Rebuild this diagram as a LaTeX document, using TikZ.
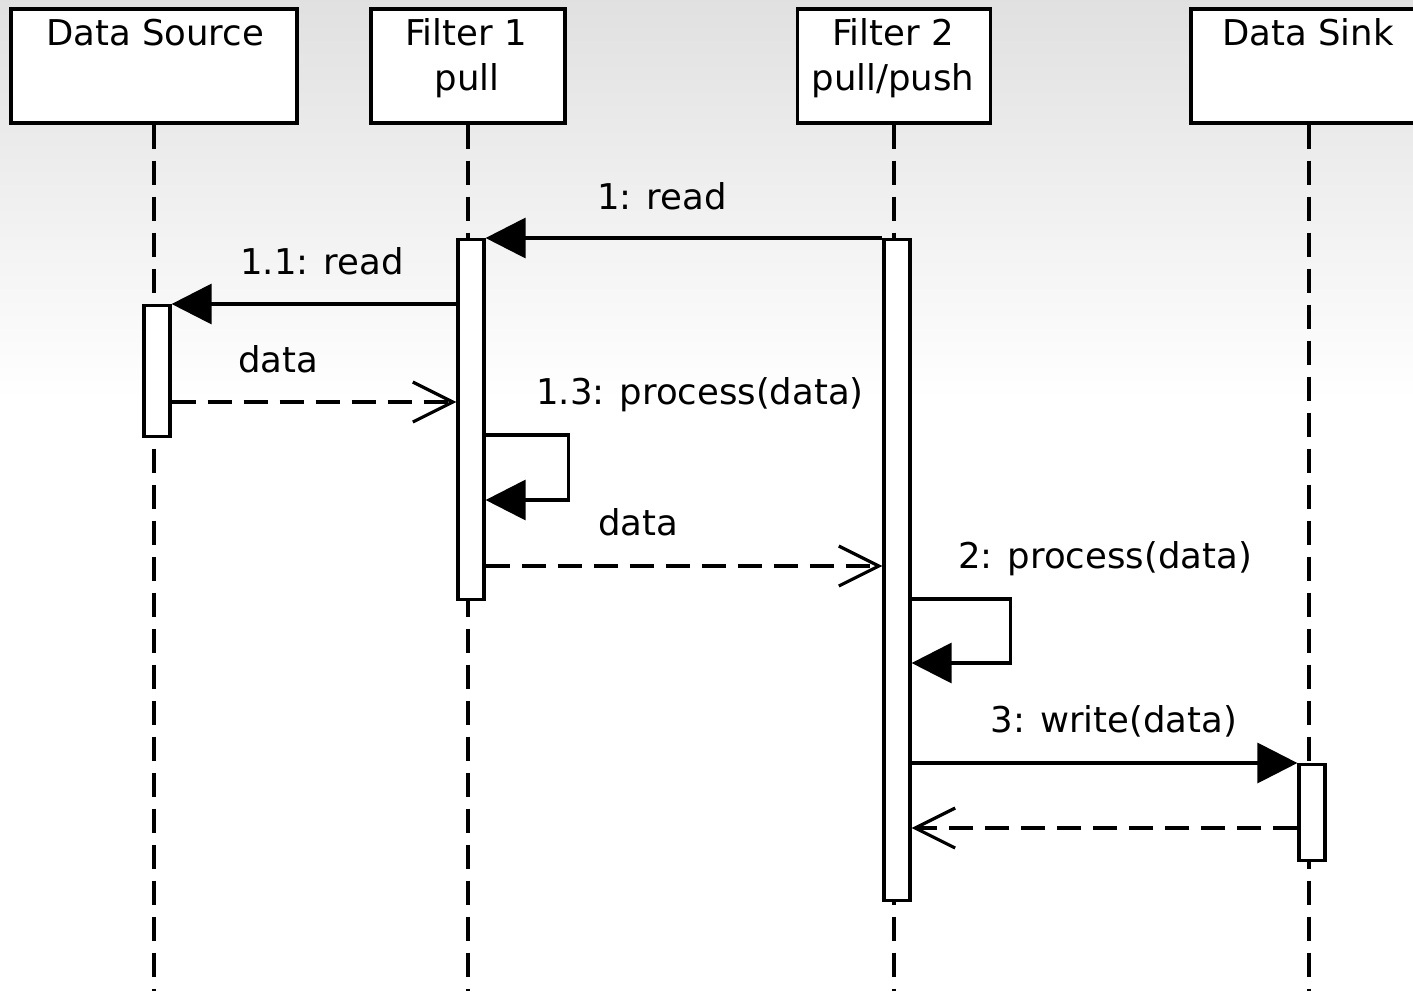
\documentclass[tikz,border=0pt]{standalone}
\usepackage{fontspec}
\setmainfont{DejaVu Sans}
\usetikzlibrary{arrows.meta}
\begin{document}
\begin{tikzpicture}[x=1pt,y=-1pt,
  every node/.style={font=\fontsize{35.5}{45}\selectfont},
  headbox/.style={draw, line width=3.2pt, fill=white, inner sep=0pt, rectangle, minimum height=114pt},
  actbar/.style={draw, line width=3.2pt, fill=white, inner sep=0pt, minimum width=26pt, anchor=north},
  lifeline/.style={line width=3.2pt, dash pattern=on 24pt off 12pt},
  call/.style={line width=3.2pt, -{Triangle[length=40pt,width=40pt]}},
  reply/.style={line width=3.2pt, dash pattern=on 24pt off 12pt, -{Straight Barb[length=40pt,width=40pt,line width=3.2pt]}},
  lbl/.style={anchor=base, inner sep=0pt}]
\path[use as bounding box] (0,0) rectangle (1413,991);
\clip (0,0) rectangle (1413,991);
\fill[white] (0,0) rectangle (1413,991);
\shade[top color=black!12, bottom color=white] (0,0) rectangle (1413,400);

% header boxes
\node[headbox, minimum width=286pt] (ds) at (154,66) {};
\node[headbox, minimum width=194pt] (f1) at (468,66) {};
\node[headbox, minimum width=193pt] (f2) at (894,66) {};
\node[headbox, minimum width=236pt] (sink) at (1309,66) {};
\node[lbl] (dst) at (155,45) {Data Source};
\node[lbl] (f1a) at (466,45) {Filter 1};
\node[lbl] (f1b) at (467,90) {pull};
\node[lbl] (f2a) at (893,45) {Filter 2};
\node[lbl] (f2b) at (893,90) {pull/push};
\node[lbl] (sinkt) at (1308,45) {Data Sink};

% lifelines
\coordinate (bottom) at (0,991);
\draw[lifeline] (ds.south) -- (ds.south |- bottom);
\draw[lifeline] (f1.south) -- (f1.south |- bottom);
\draw[lifeline] (f2.south) -- (f2.south |- bottom);
\draw[lifeline] (sink.south) -- (sink.south |- bottom);

% activation bars
\node[actbar, minimum height=360pt] (f1bar) at ([xshift=3pt]f1.center |- 0,238) {};
\node[actbar, minimum height=131pt] (dsbar) at ([xshift=3pt]ds.center |- 0,304) {};
\node[actbar, minimum height=661pt] (f2bar) at ([xshift=3pt]f2.center |- 0,238) {};
\node[actbar, minimum height=96pt] (sinkbar) at ([xshift=3pt]sink.center |- 0,763) {};

% messages
\draw[call] (f2bar.north west) -- (f1bar.north east);
\draw[call] (f1bar.west |- dsbar.north) -- (dsbar.north east);
\draw[reply] (dsbar.east |- 0,402) -- (f1bar.west |- 0,402);
\draw[call] (f1bar.east |- 0,435) -- ++(83,0) |- (f1bar.east |- 0,500);
\draw[reply] (f1bar.east |- 0,566) -- (f2bar.west |- 0,566);
\draw[call] (f2bar.east |- 0,599) -- ++(99,0) |- (f2bar.east |- 0,663);
\draw[call] (f2bar.east |- sinkbar.north) -- (sinkbar.north west);
\draw[reply] (sinkbar.west |- 0,828) -- (f2bar.east |- 0,828);

% labels
\node[lbl] (t1) at (662,209) {1: read};
\node[lbl] (t11) at (322,274) {1.1: read};
\node[lbl] (t12) at (278,372) {data};
\node[lbl] (t13) at (700,404) {1.3: process(data)};
\node[lbl] (t14) at (638,535) {data};
\node[lbl] (t2) at (1105,568) {2: process(data)};
\node[lbl] (t3) at (1114,732) {3: write(data)};
\end{tikzpicture}
\end{document}
